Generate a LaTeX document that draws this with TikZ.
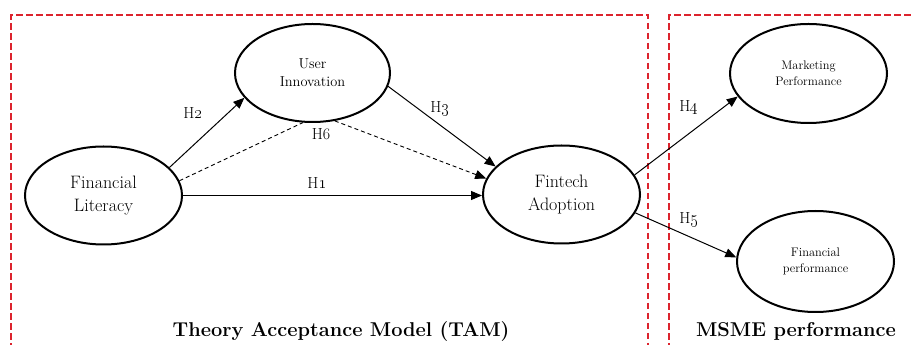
\documentclass[tikz,border=0pt]{standalone}
\usetikzlibrary{shapes.geometric,arrows.meta}
\definecolor{boxred}{RGB}{220,35,45}
\begin{document}
\begin{tikzpicture}[x=1pt,y=1pt,
  construct/.style={ellipse,draw,line width=2pt,minimum width=157pt,minimum height=98pt,inner sep=0pt,align=center},
  big/.style={font=\fontsize{18}{23}\selectfont},
  mid/.style={font=\fontsize{14.4}{18}\selectfont},
  small/.style={font=\fontsize{12.4}{15.5}\selectfont},
  hyp/.style={font=\fontsize{16}{19}\selectfont,inner sep=0pt},
  link/.style={line width=1pt,-{Triangle[length=11pt,width=9pt]}},
  dlink/.style={line width=0.9pt,dash pattern=on 4pt off 3pt},
  groupbox/.style={draw=boxred,line width=1.6pt,dash pattern=on 6.5pt off 3.5pt},
  title/.style={font=\fontsize{20}{24}\selectfont\bfseries,anchor=base,inner sep=0pt}]
\useasboundingbox (0,0) rectangle (913,345);
% group boxes
\draw[groupbox] (11,-5) -- (11,330) -- (648,330) -- (648,-5);
\draw[groupbox] (669,-5) -- (669,330) -- (930,330);
% constructs
\node[construct,mid,minimum width=155pt] (ui) at (312.5,272) {User\\Innovation};
\node[construct,big] (fl) at (103.5,149.5) {Financial\\Literacy};
\node[construct,big] (fa) at (561.5,150.5) {Fintech\\Adoption};
\node[construct,small,minimum height=99pt] (mp) at (808.5,271.5) {Marketing\\Performance};
\node[construct,small,minimum height=101pt] (fp) at (815.5,83.5) {Financial\\performance};
% connectors
\draw[link] (fl.23) -- (ui.200);
\draw[link] (ui.350) -- (fa.157);
\draw[dlink] (fl.11) -- (ui.259);
\draw[dlink,-{Triangle[length=11pt,width=9pt]}] (ui.295) -- (fa.168);
\draw[link] (fl.east) -- (fl.east -| fa.west);
\draw[link] (fa.15) -- (mp.198);
\draw[link] (fa.346) -- (fp.177);
% hypothesis labels
\node[hyp] (h2) at (193,232) {H\oldstylenums{2}};
\node[hyp] (h6) at (321,211) {H6};
\node[hyp] (h3) at (440,236) {H\oldstylenums{3}};
\node[hyp] (h1) at (317,162) {H\oldstylenums{1}};
\node[hyp] (h4) at (689,237) {H\oldstylenums{4}};
\node[hyp] (h5) at (689,125) {H\oldstylenums{5}};
% titles
\node[title] (tam) at (341,8.3) {Theory Acceptance Model (TAM)};
\node[title] (msme) at (796,8.3) {MSME performance};
\end{tikzpicture}
\end{document}
